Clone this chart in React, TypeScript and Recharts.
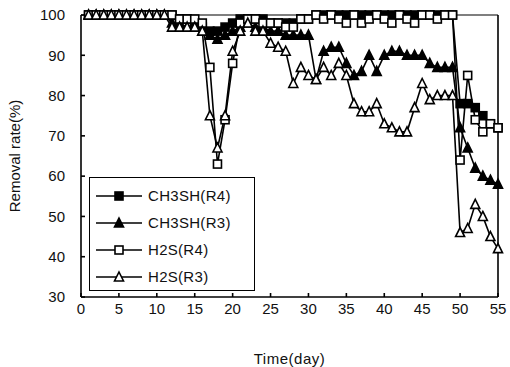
import React from "react";
import {
  LineChart, Line, XAxis, YAxis, Legend, ReferenceLine,
} from "recharts";

const DAYS = [
  1, 2, 3, 4, 5, 6, 7, 8, 9, 10, 11, 12, 13, 14, 15, 16, 17, 18, 19, 20,
  21, 22, 23, 24, 25, 26, 27, 28, 29, 30, 31, 32, 33, 34, 35, 36, 37, 38, 39, 40,
  41, 42, 43, 44, 45, 46, 47, 48, 49, 50, 51, 52, 53, 54, 55,
];

const CH3SH_R4 = [
  100, 100, 100, 100, 100, 100, 100, 100, 100, 100, 100, 100, 99, 99, 98, 97, 96, 96, 97, 98,
  99, 99, 99, 99, 98, 98, 98, 98, 99, 99, 100, 100, 100, 100, 100, 100, 100, 100, 100, 100,
  100, 100, 100, 100, 100, 100, 100, 100, 100, 78, 78, 77, 75, 73, 72,
];

const CH3SH_R3 = [
  100, 100, 100, 100, 100, 100, 100, 100, 100, 100, 100, 98, 98, 97, 97, 96, 95, 94, 95, 96,
  97, 98, 97, 97, 96, 96, 95, 95, 95, 95, 84, 91, 92, 92, 88, 85, 86, 90, 86, 90,
  91, 91, 90, 90, 90, 88, 87, 87, 87, 72, 67, 62, 60, 59, 58,
];

const H2S_R4 = [
  100, 100, 100, 100, 100, 100, 100, 100, 100, 100, 100, 100, 99, 99, 99, 98, 87, 63, 74, 88,
  98, 99, 99, 98, 98, 98, 97, 97, 99, 99, 100, 99, 100, 99, 98, 100, 98, 99, 100, 99,
  98, 100, 99, 98, 100, 100, 99, 100, 100, 64, 85, 74, 71, 73, 72,
];

const H2S_R3 = [
  100, 100, 100, 100, 100, 100, 100, 100, 100, 100, 100, 97, 97, 97, 97, 96, 75, 67, 75, 91,
  96, 98, 96, 96, 93, 92, 91, 83, 87, 85, 84, 87, 85, 88, 85, 78, 76, 76, 78, 73,
  72, 71, 71, 77, 83, 79, 80, 80, 80, 46, 47, 53, 50, 45, 42,
];

const X_TICKS = [0, 5, 10, 15, 20, 25, 30, 35, 40, 45, 50, 55];
const Y_TICKS = [30, 40, 50, 60, 70, 80, 90, 100];

const SERIES = [
  { key: "ch3shR4", name: "CH3SH(R4)", shape: "square", filled: true },
  { key: "ch3shR3", name: "CH3SH(R3)", shape: "triangle", filled: true },
  { key: "h2sR4", name: "H2S(R4)", shape: "square", filled: false },
  { key: "h2sR3", name: "H2S(R3)", shape: "triangle", filled: false },
];

const data = DAYS.map((d, i) => ({
  day: d,
  ch3shR4: CH3SH_R4[i],
  ch3shR3: CH3SH_R3[i],
  h2sR4: H2S_R4[i],
  h2sR3: H2S_R3[i],
}));

const FONT = "'Liberation Sans', Arial, sans-serif";

function Marker({ cx, cy, shape, filled }: { cx: number; cy: number; shape: string; filled: boolean }) {
  const fill = filled ? "#000" : "#fff";
  if (shape === "square") {
    return <rect x={cx - 4} y={cy - 4} width={8} height={8} fill={fill} stroke="#000" strokeWidth={1.6} />;
  }
  return (
    <path
      d={`M${cx},${cy - 5} L${cx + 4.5},${cy + 4} L${cx - 4.5},${cy + 4} Z`}
      fill={fill}
      stroke="#000"
      strokeWidth={1.6}
    />
  );
}

function makeDot(shape: string, filled: boolean) {
  // eslint-disable-next-line @typescript-eslint/no-explicit-any
  return (props: any) => {
    const { cx, cy, index } = props;
    if (cx == null || cy == null) return <g key={`n-${index}`} />;
    return <Marker key={`m-${index}`} cx={cx} cy={cy} shape={shape} filled={filled} />;
  };
}

function LegendBox() {
  return (
    <div style={{
      width: 166,
      height: 114,
      border: "1.5px solid #000",
      background: "#fff",
      boxSizing: "border-box",
      paddingTop: 4,
    }}>
      {SERIES.map((s) => (
        <div key={s.key} style={{ display: "flex", alignItems: "center", height: 27 }}>
          <svg width={56} height={14} style={{ marginLeft: 2 }}>
            <line x1={4} y1={7} x2={50} y2={7} stroke="#000" strokeWidth={1.6} />
            <Marker cx={27} cy={7} shape={s.shape} filled={s.filled} />
          </svg>
          <span style={{ fontFamily: FONT, fontSize: 15, color: "#111", letterSpacing: 0.3 }}>{s.name}</span>
        </div>
      ))}
    </div>
  );
}

export default function App() {
  return (
    <div style={{ position: "absolute", left: 0, top: 0, width: 510, height: 367, background: "#fff" }}>
      <LineChart width={510} height={367} data={data} margin={{ top: 15, right: 12, left: 0, bottom: 0 }}>
        <XAxis
          dataKey="day"
          type="number"
          domain={[0, 55]}
          ticks={X_TICKS}
          interval={0}
          stroke="#000"
          strokeWidth={1.6}
          tickSize={-4}
          tickMargin={10}
          tick={{ fill: "#111", fontSize: 15, fontFamily: FONT }}
          label={{ value: "Time(day)", position: "insideBottom", offset: 3, fill: "#111", fontSize: 15, fontFamily: FONT, letterSpacing: 0.5 }}
          height={70}
        />
        <YAxis
          type="number"
          domain={[30, 100]}
          ticks={Y_TICKS}
          interval={0}
          stroke="#000"
          strokeWidth={1.6}
          tickSize={-4}
          tickMargin={20}
          width={81}
          tick={{ fill: "#111", fontSize: 15, fontFamily: FONT }}
          label={{ value: "Removal rate(%)", angle: -90, position: "center", dx: -26, fill: "#111", fontSize: 15, fontFamily: FONT }}
        />
        <ReferenceLine y={100} stroke="#000" strokeWidth={1.2} />
        <ReferenceLine x={55} stroke="#000" strokeWidth={1.6} />
        {SERIES.map((s) => (
          <Line
            key={s.key}
            dataKey={s.key}
            name={s.name}
            type="linear"
            stroke="#000"
            strokeWidth={1.6}
            dot={makeDot(s.shape, s.filled)}
            activeDot={false}
            isAnimationActive={false}
          />
        ))}
        <Legend
          layout="vertical"
          align="center"
          verticalAlign="middle"
          wrapperStyle={{ left: 89, top: 177, width: 166 }}
          content={() => <LegendBox />}
        />
      </LineChart>
    </div>
  );
}
